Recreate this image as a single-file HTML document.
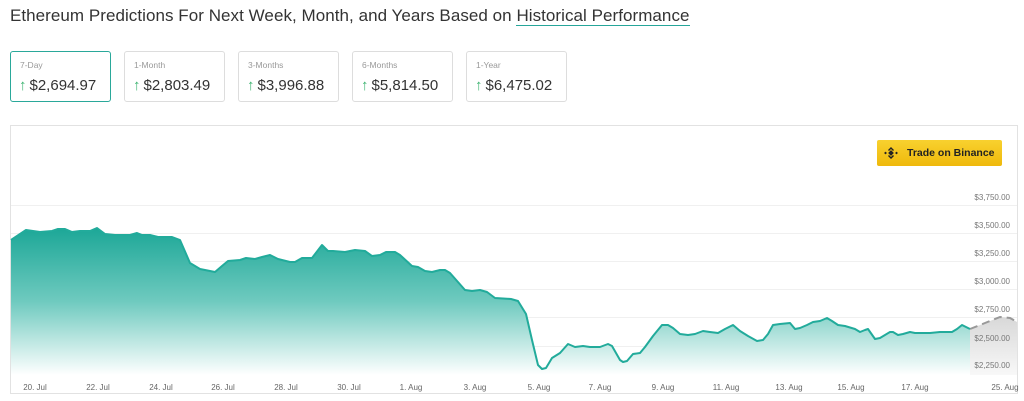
<!DOCTYPE html>
<html><head><style>
body{margin:0;width:1024px;height:401px;background:#fff;font-family:"Liberation Sans",sans-serif;overflow:hidden;position:relative}
.t{position:absolute;left:10px;top:6px;font-size:17px;color:#333;letter-spacing:0.05px}
.t span{border-bottom:1.5px solid #26a69a}
.c{position:absolute;top:51px;height:51px;border:1px solid #ddd;border-radius:3px;box-sizing:border-box}
.c.a{border-color:#2aa89a}
.c .l{position:absolute;left:9px;top:8px;font-size:8.5px;color:#999}
.c .v{position:absolute;left:8px;top:25px;font-size:15px;color:#333}
.c .v b{color:#3cb371;font-weight:normal;margin-right:3px}
.btn{position:absolute;left:877px;top:140px;width:125px;height:26px;background:linear-gradient(#f8d12f,#efb90b);border-radius:2px;font-size:10.5px;font-weight:bold;color:#222;line-height:26px;box-sizing:border-box;padding-left:30px}
</style></head><body>
<div class="t">Ethereum Predictions For Next Week, Month, and Years Based on <span>Historical Performance</span></div>
<div class="c a" style="left:10px;width:101px"><div class="l">7-Day</div><div class="v"><b>↑</b>$2,694.97</div></div>
<div class="c" style="left:124px;width:101px"><div class="l">1-Month</div><div class="v"><b>↑</b>$2,803.49</div></div>
<div class="c" style="left:238px;width:101px"><div class="l">3-Months</div><div class="v"><b>↑</b>$3,996.88</div></div>
<div class="c" style="left:352px;width:101px"><div class="l">6-Months</div><div class="v"><b>↑</b>$5,814.50</div></div>
<div class="c" style="left:466px;width:101px"><div class="l">1-Year</div><div class="v"><b>↑</b>$6,475.02</div></div>
<svg style="position:absolute;left:0;top:0" width="1024" height="401">
<defs><linearGradient id="g" gradientUnits="userSpaceOnUse" x1="0" y1="228" x2="0" y2="375"><stop offset="0" stop-color="#1ca797"/><stop offset="0.5" stop-color="#6fcabf"/><stop offset="1" stop-color="#ffffff"/></linearGradient>
<linearGradient id="gg" x1="0" y1="0" x2="0" y2="1"><stop offset="0" stop-color="#d8d8d8"/><stop offset="1" stop-color="#f8f8f8"/></linearGradient></defs>
<rect x="10.5" y="125.5" width="1007" height="268" fill="none" stroke="#e2e2e2"/>
<g stroke="#f0f0f0" stroke-width="1">
<line x1="11" x2="1017" y1="205.5" y2="205.5"/><line x1="11" x2="1017" y1="233.5" y2="233.5"/><line x1="11" x2="1017" y1="261.5" y2="261.5"/><line x1="11" x2="1017" y1="289.5" y2="289.5"/><line x1="11" x2="1017" y1="317.5" y2="317.5"/><line x1="11" x2="1017" y1="346.5" y2="346.5"/><line x1="11" x2="1017" y1="373.5" y2="373.5"/>
</g>
<path d="M970,329 L985,323 L1000,317 L1010,318 L1017,322 L1017,375 L970,375Z" fill="url(#gg)"/>
<path d="M970,329 L985,323 L1000,317 L1010,318 L1017,322" fill="none" stroke="#999" stroke-width="2" stroke-dasharray="8,5"/>
<path d="M11,240 L26,230 L40,232 L52,231 L58,229 L65,229 L72,232 L80,231 L90,231 L97,228 L105,234 L115,235 L130,235 L137,233 L142,235 L150,235 L158,237 L172,237 L180,240 L190,263 L200,269 L215,272 L222,266 L228,261 L240,260 L246,258 L255,259 L262,257 L270,255 L278,259 L290,262 L295,262 L302,258 L312,258 L322,245 L328,251 L333,251 L345,252 L355,250 L365,251 L372,256 L380,255 L386,252 L395,252 L400,255 L412,266 L418,267 L425,271 L432,272 L440,270 L445,270 L450,273 L465,290 L472,291 L480,290 L487,292 L495,298 L511,299 L518,301 L526,314 L532,340 L538,365 L542,369 L546,368 L552,358 L560,353 L568,344 L575,347 L583,346 L590,347 L600,347 L608,344 L612,346 L620,360 L623,362 L627,361 L633,354 L640,353 L645,347 L653,336 L662,325 L668,325 L673,328 L680,334 L688,335 L695,334 L703,331 L710,332 L718,333 L725,329 L733,325 L740,331 L748,336 L757,341 L763,340 L768,334 L773,325 L780,324 L790,323 L795,329 L800,328 L807,325 L813,322 L820,321 L827,318 L832,321 L838,325 L845,326 L855,329 L860,332 L865,330 L868,329 L875,339 L880,338 L890,332 L893,332 L898,335 L903,334 L910,332 L915,333 L930,333 L940,332 L952,332 L957,329 L962,325 L966,327 L970,329 L970,375 L11,375Z" fill="url(#g)"/>
<path d="M11,240 L26,230 L40,232 L52,231 L58,229 L65,229 L72,232 L80,231 L90,231 L97,228 L105,234 L115,235 L130,235 L137,233 L142,235 L150,235 L158,237 L172,237 L180,240 L190,263 L200,269 L215,272 L222,266 L228,261 L240,260 L246,258 L255,259 L262,257 L270,255 L278,259 L290,262 L295,262 L302,258 L312,258 L322,245 L328,251 L333,251 L345,252 L355,250 L365,251 L372,256 L380,255 L386,252 L395,252 L400,255 L412,266 L418,267 L425,271 L432,272 L440,270 L445,270 L450,273 L465,290 L472,291 L480,290 L487,292 L495,298 L511,299 L518,301 L526,314 L532,340 L538,365 L542,369 L546,368 L552,358 L560,353 L568,344 L575,347 L583,346 L590,347 L600,347 L608,344 L612,346 L620,360 L623,362 L627,361 L633,354 L640,353 L645,347 L653,336 L662,325 L668,325 L673,328 L680,334 L688,335 L695,334 L703,331 L710,332 L718,333 L725,329 L733,325 L740,331 L748,336 L757,341 L763,340 L768,334 L773,325 L780,324 L790,323 L795,329 L800,328 L807,325 L813,322 L820,321 L827,318 L832,321 L838,325 L845,326 L855,329 L860,332 L865,330 L868,329 L875,339 L880,338 L890,332 L893,332 L898,335 L903,334 L910,332 L915,333 L930,333 L940,332 L952,332 L957,329 L962,325 L966,327 L970,329" fill="none" stroke="#22ab9b" stroke-width="2" stroke-linejoin="round"/>
<g font-size="8" fill="#777" text-anchor="end" font-family="Liberation Sans,sans-serif">
<text x="1010" y="200">$3,750.00</text><text x="1010" y="228">$3,500.00</text><text x="1010" y="256">$3,250.00</text><text x="1010" y="284">$3,000.00</text><text x="1010" y="312">$2,750.00</text><text x="1010" y="341">$2,500.00</text><text x="1010" y="368">$2,250.00</text>
</g>
<g font-size="8" fill="#666" text-anchor="middle" font-family="Liberation Sans,sans-serif">
<text x="35" y="390">20. Jul</text><text x="98" y="390">22. Jul</text><text x="161" y="390">24. Jul</text><text x="223" y="390">26. Jul</text><text x="286" y="390">28. Jul</text><text x="349" y="390">30. Jul</text><text x="411" y="390">1. Aug</text><text x="475" y="390">3. Aug</text><text x="539" y="390">5. Aug</text><text x="600" y="390">7. Aug</text><text x="663" y="390">9. Aug</text><text x="726" y="390">11. Aug</text><text x="789" y="390">13. Aug</text><text x="851" y="390">15. Aug</text><text x="915" y="390">17. Aug</text><text x="1005" y="390">25. Aug</text>
</g>
</svg>
<div class="btn">Trade on Binance</div>
<svg style="position:absolute;left:884px;top:146px" width="14" height="14" viewBox="0 0 14 14"><g fill="#222"><rect x="5" y="5" width="4" height="4" transform="rotate(45 7 7)"/><path d="M7 1 L10 4 L9 5 L7 3 L5 5 L4 4Z"/><path d="M7 13 L10 10 L9 9 L7 11 L5 9 L4 10Z"/><rect x="0.5" y="6" width="2" height="2" transform="rotate(45 1.5 7)"/><rect x="11.5" y="6" width="2" height="2" transform="rotate(45 12.5 7)"/></g></svg>
</body></html>
